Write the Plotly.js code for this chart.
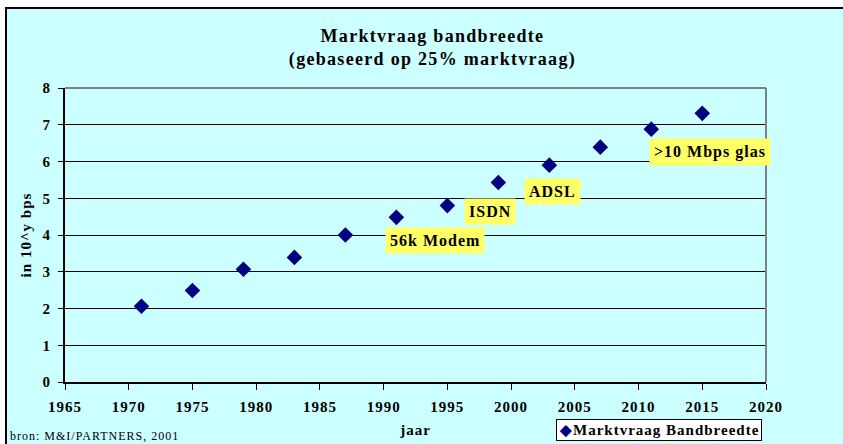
<!DOCTYPE html>
<html>
<head>
<meta charset="utf-8">
<script src="https://cdn.plot.ly/plotly-3.0.1.min.js"></script>
<style>
html,body{margin:0;padding:0;background:#fff}
#chart{width:843px;height:444px}
text{letter-spacing:1px}
.gtitle{letter-spacing:1.3px}
</style>
</head>
<body>
<div id="chart"></div>
<script>
// Data
const years = [1971, 1975, 1979, 1983, 1987, 1991, 1995, 1999, 2003, 2007, 2011, 2015];
const values = [2.06, 2.49, 3.07, 3.39, 4.0, 4.48, 4.8, 5.43, 5.9, 6.39, 6.88, 7.31];
const seriesName = 'Marktvraag Bandbreedte';
const xTicks = [1965, 1970, 1975, 1980, 1985, 1990, 1995, 2000, 2005, 2010, 2015, 2020];
const yTicks = [0, 1, 2, 3, 4, 5, 6, 7, 8];
const labelTexts = ['56k Modem', 'ISDN', 'ADSL', '>10 Mbps glas'];

const serif = 'Liberation Serif, Times New Roman, serif';
const cyan = '#CCFFFF';

// Layout geometry helpers (pixels -> paper)
const L = 65, R = 77, T = 88, B = 62, W = 843, H = 444;
const pw = W - L - R, ph = H - T - B;
const px = x => (x - L) / pw;
const py = y => (H - B - y) / ph;

const trace = {
  x: years, y: values, type: 'scatter', mode: 'markers', name: seriesName,
  marker: {symbol: 'diamond', size: 12, color: '#000080'},
  showlegend: false, hoverinfo: 'x+y'
};

const labelPos = [[1990.1, 3.84], [1996.3, 4.63], [2001.0, 5.18], [2010.8, 6.26]];
const labelAnns = labelTexts.map((t, i) => ({
  text: t, x: labelPos[i][0], y: labelPos[i][1], xref: 'x', yref: 'y',
  xanchor: 'left', yanchor: 'middle', showarrow: false,
  bgcolor: '#FFFF66', borderpad: 4,
  font: {family: serif, size: 16, color: '#000', weight: 'bold'}
}));

const layout = {
  width: W, height: H,
  margin: {l: L, r: R, t: T, b: B},
  paper_bgcolor: '#ffffff',
  plot_bgcolor: cyan,
  title: {
    text: 'Marktvraag bandbreedte<br>(gebaseerd op 25% marktvraag)',
    font: {family: serif, size: 18, color: '#000', weight: 'bold'},
    x: 0.513, xref: 'container', xanchor: 'center',
    y: 1 - 42 / H, yref: 'container', yanchor: 'middle'
  },
  xaxis: {
    range: [1965, 2020], tickvals: xTicks, ticktext: xTicks.map(String),
    showgrid: false, zeroline: false,
    showline: true, linecolor: '#000', linewidth: 2,
    ticks: 'outside', ticklen: 6, tickcolor: '#000', tickwidth: 1,
    ticklabelstandoff: 4,
    tickfont: {family: serif, size: 15, color: '#000', weight: 'bold'},
    title: {text: 'jaar', standoff: 10, font: {family: serif, size: 15, color: '#000', weight: 'bold'}},
    fixedrange: true
  },
  yaxis: {
    range: [0, 8], tickvals: yTicks, ticktext: yTicks.map(String),
    showgrid: true, gridcolor: '#000', gridwidth: 1, zeroline: false,
    showline: true, linecolor: '#000', linewidth: 2,
    ticks: 'outside', ticklen: 5, tickcolor: '#000', tickwidth: 1,
    ticklabelstandoff: 4,
    tickfont: {family: serif, size: 15, color: '#000', weight: 'bold'},
    title: {text: 'in 10^y bps', standoff: 7, font: {family: serif, size: 15, color: '#000', weight: 'bold'}},
    fixedrange: true
  },
  shapes: [
    {type: 'rect', xref: 'paper', yref: 'paper', layer: 'below',
     x0: px(6), x1: px(W + 10), y0: py(H + 10), y1: py(8),
     fillcolor: cyan, line: {color: '#000', width: 2}},
    {type: 'line', xref: 'paper', yref: 'paper', x0: 0, x1: 1, y0: 1, y1: 1,
     line: {color: '#808080', width: 2}},
    {type: 'line', xref: 'paper', yref: 'paper', x0: 1, x1: 1, y0: 0, y1: 1,
     line: {color: '#808080', width: 2}}
  ],
  annotations: labelAnns.concat([
    {text: 'bron: M&amp;I/PARTNERS, 2001', xref: 'paper', yref: 'paper',
     x: px(8), y: py(436), xanchor: 'left', yanchor: 'middle', showarrow: false,
     font: {family: serif, size: 12, color: '#000'}},
    {text: '<span style="color:#000080">◆</span>' + seriesName, xref: 'paper', yref: 'paper',
     x: px(556), y: py(430), xanchor: 'left', yanchor: 'middle', showarrow: false,
     bgcolor: '#ffffff', bordercolor: '#000', borderwidth: 1, borderpad: 2,
     font: {family: serif, size: 15, color: '#000', weight: 'bold'}}
  ])
};

Plotly.newPlot('chart', [trace], layout, {displayModeBar: false, staticPlot: true});
</script>
</body>
</html>
